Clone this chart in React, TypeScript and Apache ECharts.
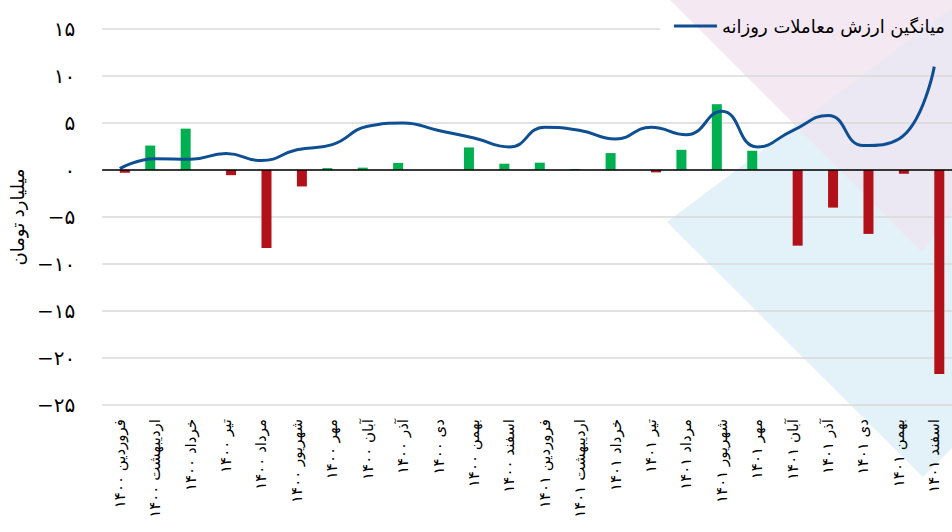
import React, { useEffect, useRef } from "react";
import * as echarts from "echarts";

const categories = [
  "فروردین ۱۴۰۰", "اردیبهشت ۱۴۰۰", "خرداد ۱۴۰۰", "تیر ۱۴۰۰", "مرداد ۱۴۰۰", "شهریور ۱۴۰۰",
  "مهر ۱۴۰۰", "آبان ۱۴۰۰", "آذر ۱۴۰۰", "دی ۱۴۰۰", "بهمن ۱۴۰۰", "اسفند ۱۴۰۰",
  "فروردین ۱۴۰۱", "اردیبهشت ۱۴۰۱", "خرداد ۱۴۰۱", "تیر ۱۴۰۱", "مرداد ۱۴۰۱", "شهریور ۱۴۰۱",
  "مهر ۱۴۰۱", "آبان ۱۴۰۱", "آذر ۱۴۰۱", "دی ۱۴۰۱", "بهمن ۱۴۰۱", "اسفند ۱۴۰۱",
];

// monthly net value (billion toman): positive = green, negative = red
const netValues = [
  -0.3, 2.6, 4.4, -0.55, -8.3, -1.75, 0.2, 0.25, 0.75, 0, 2.4, 0.67,
  0.78, 0.1, 1.8, -0.25, 2.15, 7.0, 2.05, -8.05, -4.0, -6.8, -0.4, -21.7,
];

// average daily trading value
const avgDaily = [
  0.15, 1.2, 1.15, 1.75, 1.0, 2.15, 2.7, 4.65, 5.0, 4.2, 3.4, 2.45,
  4.55, 4.2, 3.3, 4.55, 3.75, 6.25, 2.45, 4.2, 5.8, 2.6, 3.3, 11.0,
];

const lineName = "میانگین ارزش معاملات روزانه";
const yAxisName = "میلیارد تومان";

const FA_DIGITS = "۰۱۲۳۴۵۶۷۸۹";
const toFa = (v: number) => {
  const s = String(Math.abs(v)).replace(/\d/g, (d) => FA_DIGITS[Number(d)]);
  return v < 0 ? "−" + s : s;
};

const FONT = "DejaVu Sans";

export default function App() {
  const ref = useRef<HTMLDivElement>(null);
  useEffect(() => {
    if (!ref.current) return;
    const chart = echarts.init(ref.current, null, { renderer: "svg" });
    const posData = netValues.map((v) => (v >= 0 ? v : "-"));
    const negData = netValues.map((v) => (v < 0 ? v : "-"));
    const pink = "#f4e8f2";
    const blue = "#e3f1f9";
    const lav = "#ebe7f3";
    chart.setOption({
      animation: false,
      backgroundColor: "#ffffff",
      textStyle: { fontFamily: FONT },
      graphic: [
        { type: "polygon", z: 0, silent: true, shape: { points: [[667, 222], [923, 477], [1000, 400], [1000, -28]] }, style: { fill: blue } },
        { type: "polygon", z: 0, silent: true, shape: { points: [[670, 0], [922, 252], [1111, 0]] }, style: { fill: pink } },
        { type: "polygon", z: 0, silent: true, shape: { points: [[795.6, 125.6], [922, 252], [960, 201.3], [960, 2.25]] }, style: { fill: lav } },
        // cover behind the legend
        { type: "rect", z: 2, silent: true, shape: { x: 660, y: 14, width: 300, height: 26 }, style: { fill: "#ffffff" } },
        { type: "polygon", z: 2, silent: true, shape: { points: [[684, 14], [710, 40], [960, 40], [960, 14]] }, style: { fill: pink } },
        { type: "polygon", z: 2, silent: true, shape: { points: [[910, 40], [944, 14], [960, 14], [960, 40]] }, style: { fill: lav } },
      ],
      legend: {
        z: 4,
        data: [{ name: lineName, icon: "rect" }],
        right: 2,
        top: 12,
        itemWidth: 43,
        itemHeight: 3,
        textStyle: { fontSize: 18, color: "#000", fontFamily: FONT },
      },
      grid: { left: 99, right: -6, top: 29, bottom: 127, containLabel: false },
      xAxis: {
        type: "category",
        z: 1,
        data: categories,
        boundaryGap: true,
        axisLine: { show: false, onZero: false },
        axisTick: { show: false },
        splitLine: { show: false },
        axisLabel: {
          rotate: 90,
          interval: 0,
          margin: 14,
          fontSize: 15,
          color: "#000",
          fontFamily: FONT,
        },
      },
      yAxis: {
        type: "value",
        z: 1,
        min: -25,
        max: 15,
        interval: 5,
        name: yAxisName,
        nameLocation: "middle",
        nameRotate: 90,
        nameGap: 72,
        nameTextStyle: { fontSize: 18, color: "#000", fontFamily: FONT },
        axisLine: { show: false },
        axisTick: { show: false },
        splitLine: { lineStyle: { color: "#d9d9d9", width: 1.5 } },
        axisLabel: {
          margin: 27,
          fontSize: 20,
          color: "#000",
          fontFamily: FONT,
          formatter: (v: number) => toFa(v),
        },
      },
      series: [
        {
          name: "افزایش",
          type: "bar",
          z: 3,
          data: posData,
          barWidth: 10,
          barGap: "0%",
          itemStyle: { color: "#00b050" },
        },
        {
          name: "کاهش",
          type: "bar",
          z: 3,
          data: negData,
          barWidth: 10,
          barGap: "0%",
          itemStyle: { color: "#b3111a" },
          markLine: {
            silent: true,
            symbol: ["none", "none"],
            label: { show: false },
            lineStyle: { color: "#000", width: 1.5, type: "solid" },
            data: [{ yAxis: 0 }],
          },
        },
        {
          name: lineName,
          type: "line",
          z: 3,
          data: avgDaily,
          smooth: 0.5,
          symbol: "none",
          lineStyle: { color: "#0e4e92", width: 3 },
          itemStyle: { color: "#0e4e92" },
        },
      ],
    });
    return () => chart.dispose();
  }, []);
  return (
    <div
      ref={ref}
      style={{ position: "fixed", left: 0, top: 0, width: 952, height: 532 }}
    />
  );
}
